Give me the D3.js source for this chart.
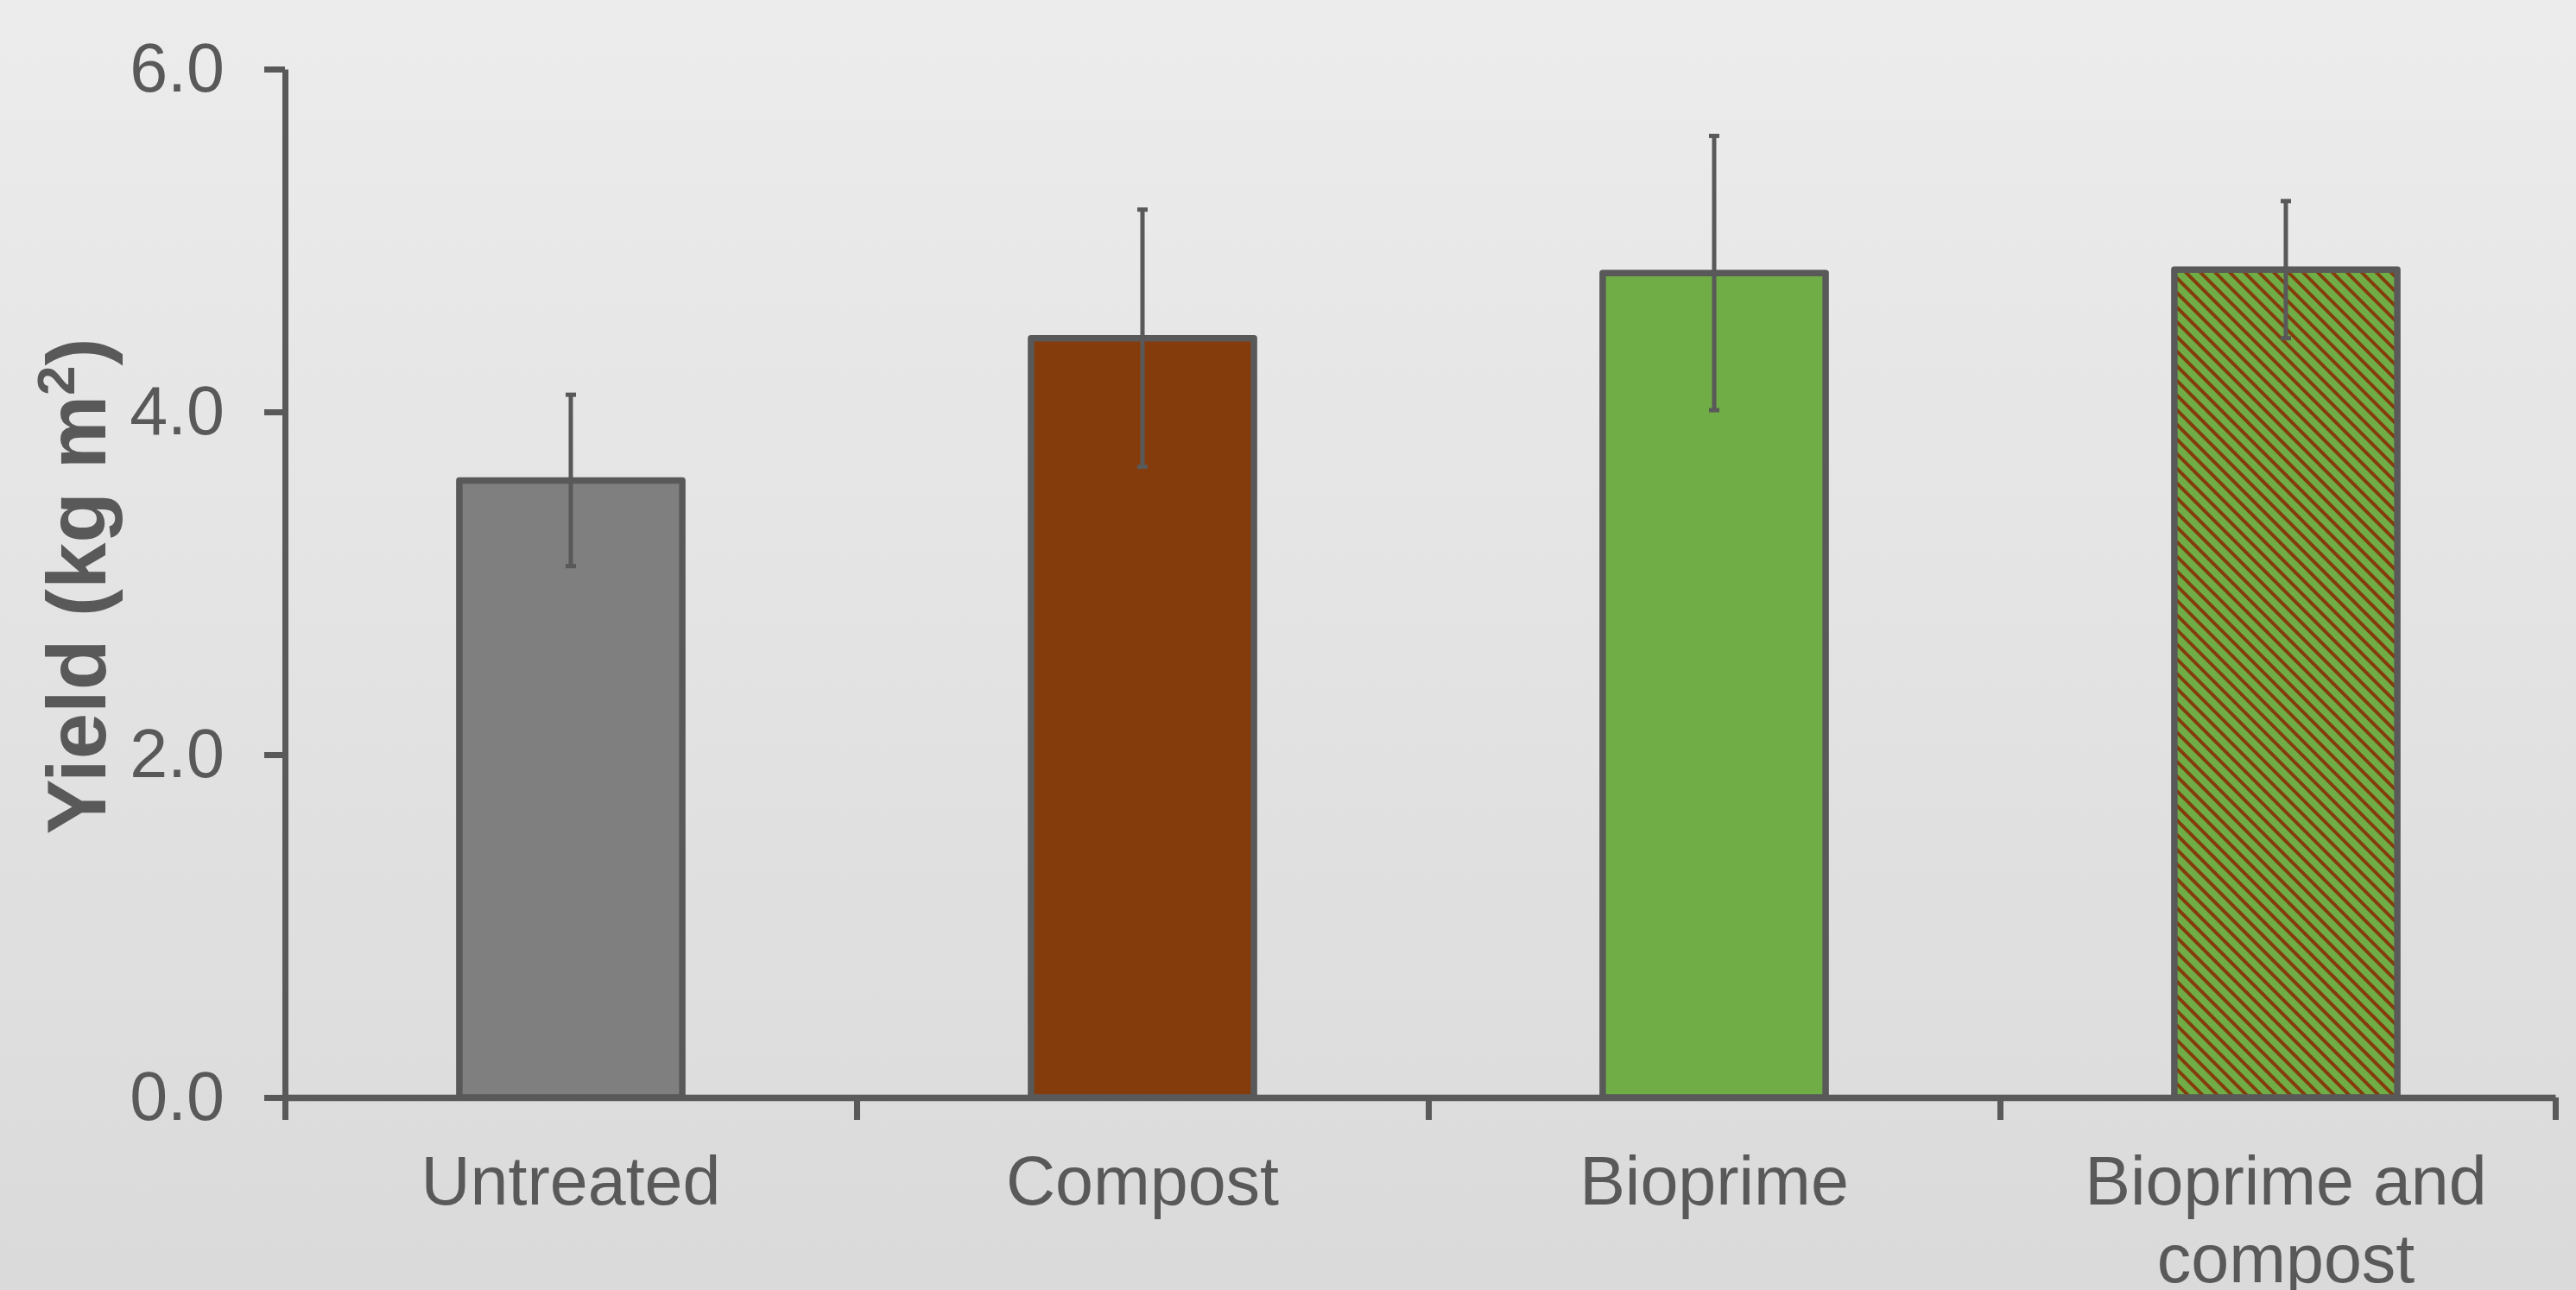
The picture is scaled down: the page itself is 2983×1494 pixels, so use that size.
<!DOCTYPE html>
<html>
<head>
<meta charset="utf-8">
<script src="https://cdn.jsdelivr.net/npm/d3@7"></script>
<style>
  html, body { margin: 0; padding: 0; background: #e4e4e4; }
  svg { display: block; font-family: "Liberation Sans", Arial, sans-serif; }
</style>
</head>
<body>
<div id="chart"></div>
<script>
const categories = ["Untreated", "Compost", "Bioprime", "Bioprime and compost"];
const yieldMean = [3.60, 4.43, 4.81, 4.83];
const yieldErr = [0.50, 0.75, 0.80, 0.40];
const yTicks = [0, 2, 4, 6];

const chart = {};
chart.W = 2983;
chart.H = 1494;
chart.margin = { top: 80, right: 24, bottom: 223, left: 330 };
chart.width = chart.W - chart.margin.left - chart.margin.right;
chart.height = chart.H - chart.margin.top - chart.margin.bottom;
chart.band = 662; // excel's last category runs past the plot edge
const ink = "#595959";

const svg = d3.select("#chart").append("svg")
    .attr("width", chart.W)
    .attr("height", chart.H);

const defs = svg.append("defs");
const bg = defs.append("linearGradient").attr("id", "bg")
    .attr("x1", 0).attr("y1", 0).attr("x2", 0).attr("y2", 1);
bg.append("stop").attr("offset", "0%").attr("stop-color", "#ececec");
bg.append("stop").attr("offset", "100%").attr("stop-color", "#dadada");

// dark downward diagonal, brown on green
const hatch = defs.append("pattern").attr("id", "hatch")
    .attr("patternUnits", "userSpaceOnUse")
    .attr("width", 12).attr("height", 12)
    .attr("patternTransform", "rotate(45)");
hatch.append("rect").attr("width", 12).attr("height", 12).attr("fill", "#70ad47");
hatch.append("rect").attr("width", 12).attr("height", 4).attr("fill", "#843c0c");

svg.append("rect").attr("width", chart.W).attr("height", chart.H).attr("fill", "url(#bg)");

const fills = ["#7f7f7f", "#843c0c", "#70ad47", "url(#hatch)"];

const g = svg.append("g")
    .attr("transform", `translate(${chart.margin.left},${chart.margin.top})`);

const x = d3.scaleBand().domain(categories).range([0, chart.band * categories.length]).padding(0);
const xEdge = d3.scaleLinear().domain([0, categories.length]).range([0, chart.band * categories.length]);
const y = d3.scaleLinear().domain([0, 6]).range([chart.height, 0]);
const barW = x.bandwidth() * 0.39;

const data = categories.map((c, i) => ({ cat: c, v: yieldMean[i], e: yieldErr[i], fill: fills[i] }));

// bars
g.selectAll(".bar").data(data).enter().append("rect")
    .attr("x", d => x(d.cat) + (x.bandwidth() - barW) / 2)
    .attr("y", d => y(d.v))
    .attr("width", barW)
    .attr("height", d => y(0) - y(d.v))
    .attr("fill", d => d.fill)
    .attr("stroke", ink)
    .attr("stroke-width", 7.5)
    .attr("stroke-linejoin", "round");

// error bars
const eb = g.selectAll(".err").data(data).enter().append("g")
    .attr("transform", d => `translate(${x(d.cat) + x.bandwidth() / 2},0)`)
    .attr("stroke", ink).attr("stroke-width", 5);
eb.append("line").attr("y1", d => y(d.v + d.e)).attr("y2", d => y(d.v - d.e));
eb.append("line").attr("x1", -6).attr("x2", 6).attr("y1", d => y(d.v + d.e)).attr("y2", d => y(d.v + d.e));
eb.append("line").attr("x1", -6).attr("x2", 6).attr("y1", d => y(d.v - d.e)).attr("y2", d => y(d.v - d.e));

// y axis
const yAxis = g.append("g")
    .call(d3.axisLeft(y).tickValues(yTicks).tickFormat(d3.format(".1f")).tickSize(24).tickSizeOuter(0).tickPadding(46));
yAxis.select(".domain").attr("stroke", ink).attr("stroke-width", 7);
yAxis.selectAll(".tick line").attr("stroke", ink).attr("stroke-width", 7);
yAxis.selectAll("text").attr("fill", ink).style("font-size", "79px")
    .style("font-family", "'Liberation Sans', Arial, sans-serif");

// x axis: edge ticks (last one sits on the plot edge) + centred labels
const xClip = d3.scaleLinear().domain([0, xEdge.invert(chart.width)]).range([0, chart.width]);
const edgeVals = d3.range(categories.length).concat([xEdge.invert(chart.width)]);
const xAxis = g.append("g").attr("transform", `translate(0,${chart.height})`)
    .call(d3.axisBottom(xClip).tickValues(edgeVals).tickFormat("").tickSize(26).tickSizeOuter(0));
xAxis.select(".domain").attr("stroke", ink).attr("stroke-width", 7.5);
xAxis.selectAll(".tick line").attr("stroke", ink).attr("stroke-width", 7);

const xLab = g.append("g").attr("transform", `translate(0,${chart.height})`)
    .call(d3.axisBottom(x).tickSize(0).tickPadding(0));
xLab.select(".domain").remove();
xLab.selectAll("text")
    .attr("fill", ink)
    .style("font-size", "79px")
    .style("font-family", "'Liberation Sans', Arial, sans-serif")
    .attr("dy", null)
    .attr("y", 124)
    .call(wrap, 600);

function wrap(text, width) {
    text.each(function() {
        const t = d3.select(this);
        const words = t.text().split(/\s+/);
        const y0 = +t.attr("y");
        t.text(null);
        let line = [];
        let lineNo = 0;
        let tspan = t.append("tspan").attr("x", 0).attr("y", y0);
        words.forEach(w => {
            line.push(w);
            tspan.text(line.join(" "));
            if (tspan.node().getComputedTextLength() > width && line.length > 1) {
                line.pop();
                tspan.text(line.join(" "));
                line = [w];
                lineNo++;
                tspan = t.append("tspan").attr("x", 0).attr("y", y0 + lineNo * 90).text(w);
            }
        });
    });
}

// y title
const yt = svg.append("text")
    .attr("transform", `translate(122,${679}) rotate(-90)`)
    .attr("text-anchor", "middle")
    .attr("fill", ink)
    .style("font-size", "96px")
    .style("font-weight", "bold");
yt.append("tspan").text("Yield (kg m");
yt.append("tspan").text("2").style("font-size", "62px").attr("dy", -36);
yt.append("tspan").text(")").attr("dy", 36);
</script>
</body>
</html>
